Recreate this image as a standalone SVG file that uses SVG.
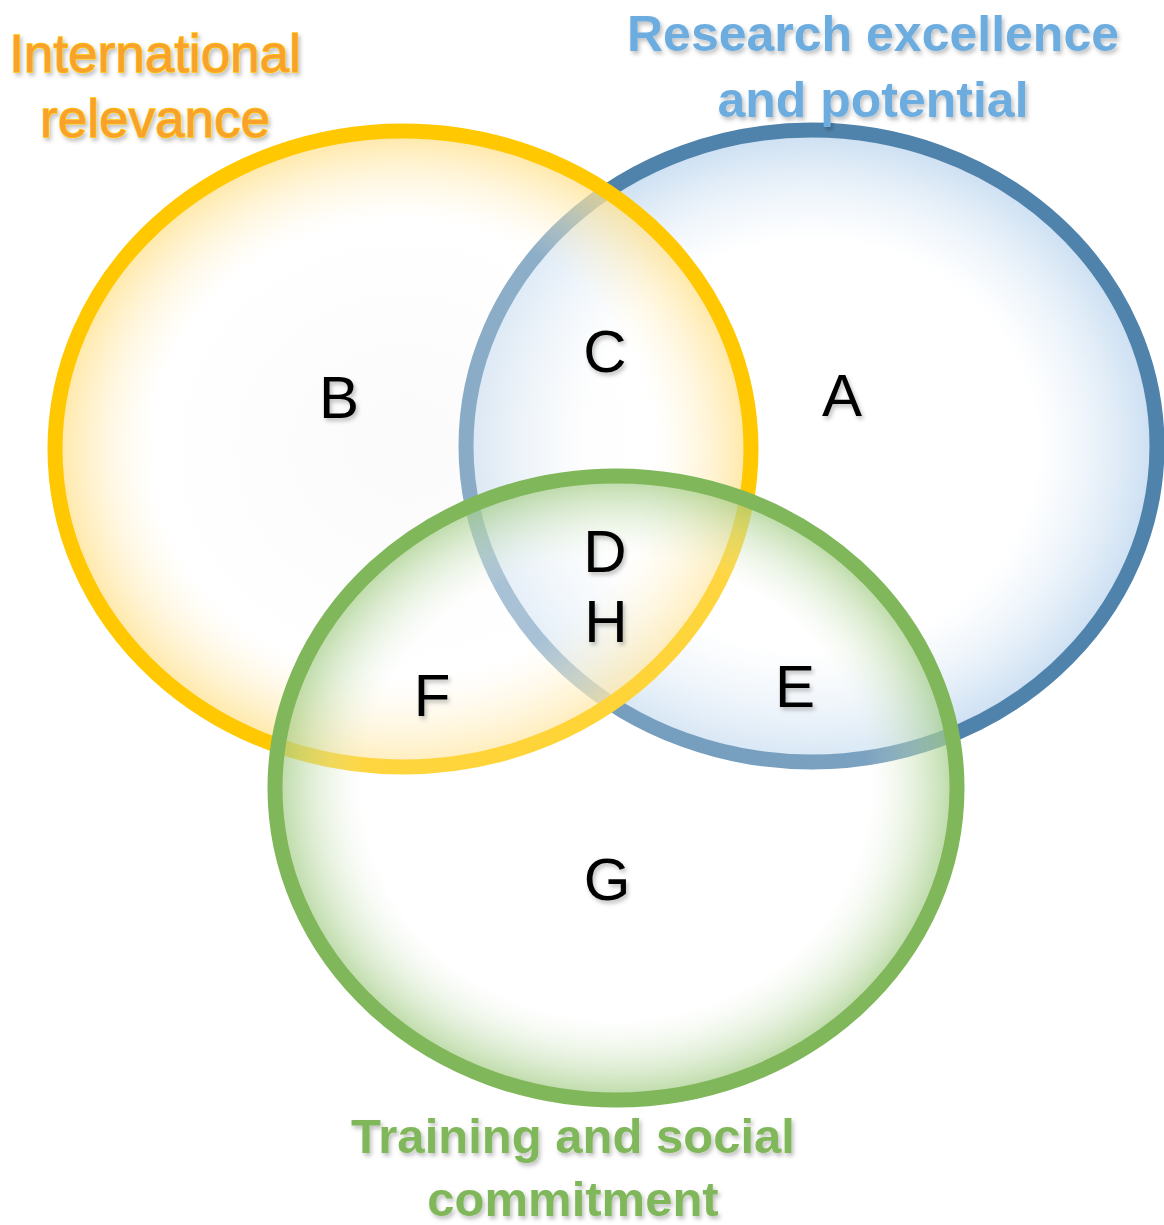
<svg xmlns="http://www.w3.org/2000/svg" width="1164" height="1225" viewBox="0 0 1164 1225">
<defs>
<radialGradient id="gY" cx="0.5" cy="0.5" r="0.5">
<stop offset="0" stop-color="#f2f2f2" stop-opacity="0.35"/>
<stop offset="0.72" stop-color="#ffffff" stop-opacity="0.35"/>
<stop offset="1" stop-color="#ffe08a" stop-opacity="0.8"/>
</radialGradient>
<radialGradient id="gB" cx="0.5" cy="0.5" r="0.5">
<stop offset="0" stop-color="#ffffff" stop-opacity="0.5"/>
<stop offset="0.65" stop-color="#ffffff" stop-opacity="0.5"/>
<stop offset="1" stop-color="#c3daf0" stop-opacity="0.9"/>
</radialGradient>
<radialGradient id="gG" cx="0.5" cy="0.5" r="0.5">
<stop offset="0" stop-color="#ffffff" stop-opacity="0.2"/>
<stop offset="0.74" stop-color="#ffffff" stop-opacity="0.25"/>
<stop offset="1" stop-color="#9fca80" stop-opacity="0.75"/>
</radialGradient>
<filter id="sh" x="-10%" y="-10%" width="120%" height="130%">
<feDropShadow dx="2" dy="3" stdDeviation="2" flood-color="#000" flood-opacity="0.25"/>
</filter>
</defs>
<style>
.lbl{font-family:"Liberation Sans",Arial,sans-serif;font-size:60px;fill:#000;text-anchor:middle;filter:url(#sh)}
.t{text-anchor:middle;filter:url(#sh);font-family:"Liberation Sans",Arial,sans-serif}
.ty{font-size:53px;fill:#f9a12f;stroke:#ffc400;stroke-width:1.5px;paint-order:stroke}
.tb{font-size:50px;font-weight:bold;fill:#6cacdf}
.tg{font-size:49px;font-weight:bold;fill:#80b75a}
</style>
<rect width="1164" height="1225" fill="#ffffff"/>
<g id="circle-research">
<ellipse cx="811.5" cy="446" rx="345.5" ry="316" fill="url(#gB)" stroke="#5083ac" stroke-width="15"/>
</g>
<g id="circle-international">
<ellipse cx="403" cy="449" rx="348" ry="318" fill="url(#gY)" stroke="#ffc800" stroke-width="15"/>
</g>
<g id="circle-training">
<ellipse cx="616" cy="788" rx="341" ry="312" fill="url(#gG)" stroke="#80b75a" stroke-width="15"/>
</g>
<g id="connectors"></g>
<g id="title-international">
<text class="t ty" x="155" y="72">International</text>
<text class="t ty" x="155" y="137">relevance</text>
</g>
<g id="title-research">
<text class="t tb" x="873" y="51">Research excellence</text>
<text class="t tb" x="873" y="117">and potential</text>
</g>
<g id="title-training">
<text class="t tg" x="573" y="1153">Training and social</text>
<text class="t tg" x="573" y="1216">commitment</text>
</g>
<g id="region-labels">
<text class="lbl" x="842" y="416">A</text>
<text class="lbl" x="339" y="418">B</text>
<text class="lbl" x="605" y="372">C</text>
<text class="lbl" x="605" y="572">D</text>
<text class="lbl" x="606" y="642">H</text>
<text class="lbl" x="432" y="716">F</text>
<text class="lbl" x="795" y="707">E</text>
<text class="lbl" x="607" y="900">G</text>
</g>
</svg>
